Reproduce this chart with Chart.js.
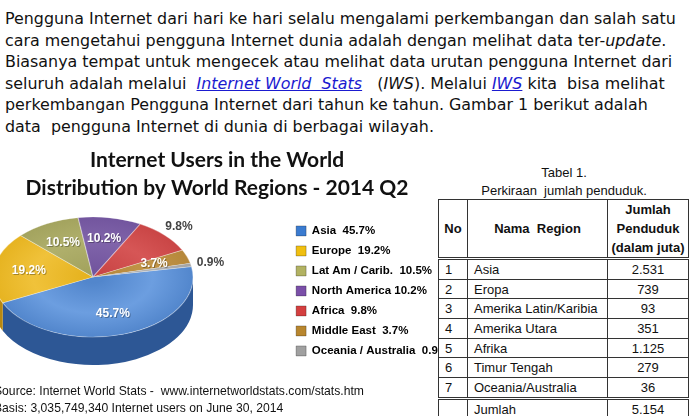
<!DOCTYPE html>
<html>
<head>
<meta charset="utf-8">
<script src="https://cdn.jsdelivr.net/npm/chart.js@4.4.1/dist/chart.umd.min.js"></script>
<style>
  html, body { margin: 0; padding: 0; background: #fff; width: 690px; height: 416px; overflow: hidden; position: relative; }
  .para { position: absolute; left: 5px; top: 8px; font-family: 'DejaVu Sans', sans-serif; font-size: 15.9px; line-height: 21.5px; color: #111; }
  .para div { white-space: nowrap; }
  .para a { color: #1b1bd0; font-style: italic; }
  #chartBox { position: absolute; left: 0; top: 140px; width: 458px; height: 276px; }
  .src { position: absolute; left: -6px; top: 382px; font-family: 'Liberation Sans', Arial, sans-serif; font-size: 13px; line-height: 17px; color: #111; white-space: nowrap; transform: scaleX(0.935); transform-origin: 0 0; }
  #tblBox { position: absolute; left: 438px; top: 164px; width: 252px; font-family: 'Liberation Sans', Arial, sans-serif; color: #111; }
  .cap { text-align: center; font-size: 13px; line-height: 17.5px; background: #fff; }
  table { border-collapse: collapse; width: 251px; background: #fff; font-size: 13px; }
  td, th { border: 1px solid #333; padding: 0 0 0 6px; height: 18.7px; text-align: left; font-weight: normal; }
  th { font-weight: bold; height: 56px; line-height: 19px; text-align: center; padding: 0; }
  td.num { text-align: center; padding: 0; }
  tr.first td { border-top: 3px double #333; }
  tr.total td { border-top: 3px double #333; }
</style>
</head>
<body>
<div class="para">
  <div>Pengguna Internet dari hari ke hari selalu mengalami perkembangan dan salah satu</div>
  <div>cara mengetahui pengguna Internet dunia adalah dengan melihat data ter-<i>update</i>.</div>
  <div>Biasanya tempat untuk mengecek atau melihat data urutan pengguna Internet dari</div>
  <div>seluruh adalah melalui &nbsp;<a href="#">Internet World &nbsp;Stats</a> &nbsp; (<i>IWS</i>). Melalui <a href="#">IWS</a> kita &nbsp;bisa melihat</div>
  <div>perkembangan Pengguna Internet dari tahun ke tahun. Gambar 1 berikut adalah</div>
  <div>data &nbsp;pengguna Internet di dunia di berbagai wilayah.</div>
</div>

<div id="chartBox"><canvas id="pieChart"></canvas></div>
<div class="src">Source: Internet World Stats - &nbsp;www.internetworldstats.com/stats.htm<br>Basis: 3,035,749,340 Internet users on June 30, 2014</div>

<div id="tblBox">
  <div class="cap">Tabel 1.<br>Perkiraan &nbsp;jumlah penduduk.</div>
  <table id="popTable"></table>
</div>

<script>
// pie data (percent of internet users, 2014 Q2)
const regions = ['Asia', 'Europe', 'Lat Am / Carib.', 'North America', 'Africa', 'Middle East', 'Oceania / Australia'];
const shares = [45.7, 19.2, 10.5, 10.2, 9.8, 3.7, 0.9];

// table data (population, in millions)
const regionNames = ['Asia', 'Eropa', 'Amerika Latin/Karibia', 'Amerika Utara', 'Afrika', 'Timur Tengah', 'Oceania/Australia'];
const population = ['2.531', '739', '93', '351', '1.125', '279', '36'];
const populationTotal = '5.154';

const topColors = ['#5286cc', '#e6b320', '#a3a35e', '#72559e', '#c94545', '#b5873a', '#a3a3a3'];
const lightColors = ['#6c9ee0', '#f0c23a', '#b0b06c', '#8064aa', '#d65656', '#c29548', '#b3b3b3'];
const sideColors = ['#2d5795', '#b8880f', '#7c7c3c', '#4e3873', '#962e2e', '#86612a', '#7a7a7a'];
const legendColors = ['#3a7bd0', '#f0bf10', '#b2b262', '#7a4fa8', '#d43f3f', '#b8862e', '#a0a0a0'];
const labelOutside = [false, false, false, false, true, false, true];

// build table
const tbl = document.getElementById('popTable');
let html = '<tr><th style="width:28px">No</th><th style="width:139px">Nama &nbsp;Region</th><th>Jumlah<br>Penduduk<br>(dalam juta)</th></tr>';
regionNames.forEach((n, i) => {
  html += '<tr' + (i === 0 ? ' class="first"' : '') + '><td>' + (i + 1) + '</td><td>' + n + '</td><td class="num">' + population[i] + '</td></tr>';
});
html += '<tr class="total"><td></td><td>Jumlah</td><td class="num">' + populationTotal + '</td></tr>';
tbl.innerHTML = html;

// squash the pie into a tilted disc and give it a rim
const tilt3d = {
  id: 'tilt3d',
  beforeDatasetsDraw(chart, args, opts) {
    const arcs = chart.getDatasetMeta(0).data;
    const ctx = chart.ctx;
    const { cx, cy, rx, ry, depth } = opts;
    arcs.forEach((arc, i) => {
      for (let k = -1; k <= 1; k++) {
        const off = k * 2 * Math.PI;
        const a1 = Math.max(arc.startAngle + off, 0);
        const a2 = Math.min(arc.endAngle + off, Math.PI);
        if (a2 <= a1) continue;
        ctx.beginPath();
        ctx.ellipse(cx, cy, rx, ry, 0, a1, a2);
        ctx.ellipse(cx, cy + depth, rx, ry, 0, a2, a1, true);
        ctx.closePath();
        ctx.fillStyle = sideColors[i];
        ctx.fill();
      }
    });
    const a0 = arcs[0];
    const R = a0.outerRadius;
    ctx.save();
    ctx.translate(cx, cy);
    ctx.scale(rx / R, ry / R);
    ctx.translate(-a0.x, -a0.y);
  },
  afterDatasetsDraw(chart, args, opts) {
    const ctx = chart.ctx;
    ctx.restore();
    const { cx, cy, rx, ry } = opts;
    const arcs = chart.getDatasetMeta(0).data;
    ctx.save();
    ctx.font = "bold 12px 'Liberation Sans', sans-serif";
    ctx.textAlign = 'center';
    ctx.textBaseline = 'middle';
    arcs.forEach((arc, i) => {
      const mid = (arc.startAngle + arc.endAngle) / 2;
      const f = labelOutside[i] ? 1.2 : 0.65;
      const x = cx + rx * f * Math.cos(mid);
      const y = cy + ry * f * Math.sin(mid);
      const txt = shares[i].toFixed(1) + '%';
      if (labelOutside[i]) {
        ctx.fillStyle = '#444';
      } else {
        ctx.fillStyle = 'rgba(0,0,0,0.3)';
        ctx.fillText(txt, x + 1, y + 1);
        ctx.fillStyle = '#fff';
      }
      ctx.fillText(txt, x, y);
    });
    ctx.restore();
  }
};

// lighter toward the middle of each slice, like the shaded top face
function faceColor(c) {
  const area = c.chart.chartArea;
  if (!area) return topColors[c.dataIndex];
  const x = (area.left + area.right) / 2;
  const y = (area.top + area.bottom) / 2;
  const r = Math.min(area.right - area.left, area.bottom - area.top) / 2;
  const g = c.chart.ctx.createRadialGradient(x, y, r * 0.1, x, y, r);
  g.addColorStop(0, topColors[c.dataIndex]);
  g.addColorStop(0.55, lightColors[c.dataIndex]);
  g.addColorStop(1, topColors[c.dataIndex]);
  return g;
}

const pctx = document.getElementById('pieChart').getContext('2d');
const pieChart = new Chart(pctx, {
  type: 'pie',
  data: {
    labels: regions,
    datasets: [{
      data: shares,
      backgroundColor: faceColor,
      borderColor: 'rgba(255,255,255,0.35)',
      borderWidth: 1
    }]
  },
  plugins: [tilt3d],
  options: {
    responsive: true,
    maintainAspectRatio: false,
    animation: false,
    rotation: 80,
    layout: { padding: { left: -24, bottom: 42 } },
    plugins: {
      tilt3d: { cx: 93, cy: 137, rx: 100, ry: 60, depth: 28 },
      tooltip: { enabled: false },
      title: {
        display: true,
        text: ['Internet Users in the World', 'Distribution by World Regions - 2014 Q2'],
        color: '#111',
        font: { family: 'Lato', size: 21, weight: 'bold', lineHeight: 1.33 },
        padding: { top: 6, bottom: 6 }
      },
      legend: {
        position: 'right',
        fullSize: false,
        labels: {
          boxWidth: 10,
          boxHeight: 10,
          padding: 8.5,
          color: '#333',
          font: { family: "'Liberation Sans', sans-serif", size: 11.5, weight: 'bold' },
          generateLabels: function(chart) {
            return regions.map(function(r, i) {
              const sep = r === 'North America' ? ' ' : '  ';
              return {
                text: r + sep + shares[i].toFixed(1) + '%',
                fillStyle: legendColors[i],
                strokeStyle: 'rgba(0,0,0,0.25)',
                lineWidth: 1,
                index: i
              };
            });
          }
        }
      }
    }
  }
});
</script>
</body>
</html>
